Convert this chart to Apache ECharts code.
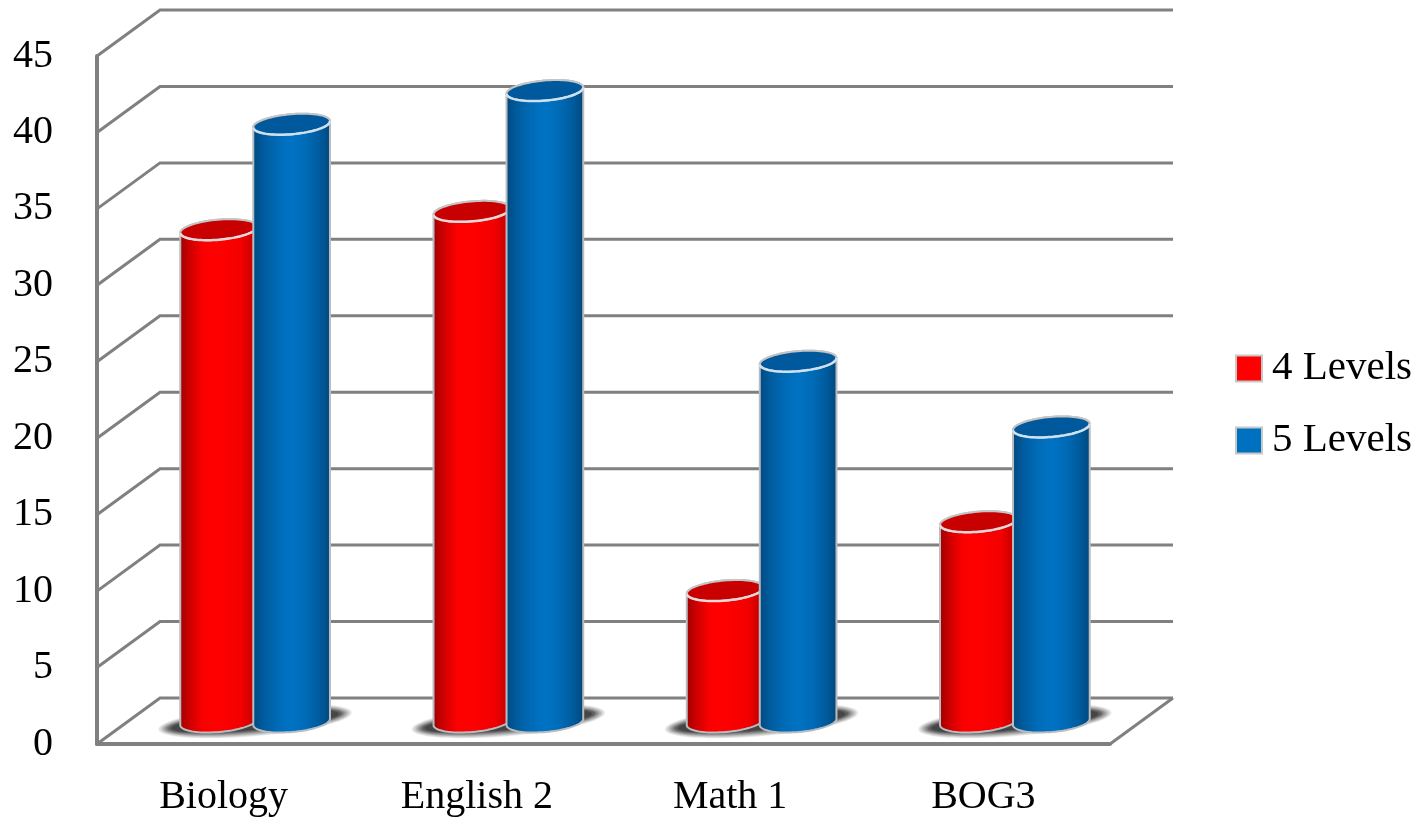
<!DOCTYPE html>
<html>
<head>
<meta charset="utf-8">
<style>html,body{margin:0;padding:0;background:#fff}#c{width:1424px;height:824px}</style>
<script src="https://cdn.jsdelivr.net/npm/echarts@6/dist/echarts.min.js"></script>
</head>
<body>
<div id="c"></div>
<script>
const categories = ['Biology', 'English 2', 'Math 1', 'BOG3'];
const yTicks = [0, 5, 10, 15, 20, 25, 30, 35, 40, 45];
const levels4 = [32.2, 33.4, 8.6, 13.1];
const levels5 = [39.1, 41.3, 23.6, 19.3];

const FONT = '"Liberation Serif", serif';
const DEPTH_X = 63, DEPTH_Y = 46;
const MID_X = 31.5, MID_Y = 22;
const RX = 38.5, RY = 10, TILT = -5 * Math.PI / 180;
const BAR_SHIFT = 36.5;
const LINE = '#808080';

function ellipsePoints(cx, cy, from, to, n) {
  const pts = [];
  for (let i = 0; i <= n; i++) {
    const t = from + (to - from) * i / n;
    pts.push([
      cx + RX * Math.cos(t) * Math.cos(TILT) - RY * Math.sin(t) * Math.sin(TILT),
      cy + RX * Math.cos(t) * Math.sin(TILT) + RY * Math.sin(t) * Math.cos(TILT)
    ]);
  }
  return pts;
}

function cylinder(shift, bodyStops, topFill, rim) {
  return function (params, api) {
    const base = api.coord([api.value(0), 0]);
    const top = api.coord([api.value(0), api.value(1)]);
    const cx = base[0] + MID_X + shift;
    const by = base[1] - MID_Y, ty = top[1] - MID_Y;
    const bottomArc = ellipsePoints(cx, by, Math.PI, 0, 40);
    const topArc = ellipsePoints(cx, ty, 0, -Math.PI, 40);
    const front = ellipsePoints(cx, ty, Math.PI, 0, 40);
    const whole = ellipsePoints(cx, ty, 0, 2 * Math.PI, 80);
    const grad = new echarts.graphic.LinearGradient(cx - RX, 0, cx + RX, 0,
      bodyStops.map(s => ({ offset: s[0], color: s[1] })), true);
    return {
      type: 'group',
      children: [
        { type: 'polygon', shape: { points: bottomArc.concat(topArc) },
          style: { fill: grad, stroke: '#b9bcc0', lineWidth: 2 } },
        { type: 'polygon', shape: { points: whole },
          style: { fill: topFill, stroke: '#c4c4c4', lineWidth: 2 } },
        { type: 'polyline', shape: { points: front },
          style: { fill: null, stroke: rim, lineWidth: 2.5 } }
      ]
    };
  };
}

const redStops = [[0, '#a00000'], [0.12, '#cc0000'], [0.3, '#fb0000'], [0.5, '#ff0000'], [0.8, '#f20000'], [1, '#b80000']];
const blueStops = [[0, '#004a80'], [0.14, '#005c9f'], [0.32, '#006bb7'], [0.5, '#0073c4'], [0.7, '#006ab5'], [0.88, '#00599a'], [1, '#00487c']];

const shadowLayers = [[97, 15, 0.12], [95, 14, 0.14], [93, 13, 0.18], [91, 12, 0.22], [89, 11, 0.3], [87, 10, 0.45], [84, 9, 0.7]];

const option = {
  backgroundColor: '#fff',
  animation: false,
  textStyle: { fontFamily: FONT },
  grid: { left: 97, top: 56, width: 1013, height: 688, containLabel: false },
  xAxis: {
    type: 'category', data: categories,
    axisLine: { show: true, lineStyle: { color: LINE, width: 4 } },
    axisTick: { show: false },
    axisLabel: { color: '#000', fontSize: 40, fontFamily: FONT, margin: 33 },
    splitLine: { show: false }
  },
  yAxis: {
    type: 'value', min: 0, max: 45, interval: 5,
    axisLine: { show: true, lineStyle: { color: LINE, width: 4 } },
    axisTick: { show: false },
    axisLabel: { color: '#000', fontSize: 40, fontFamily: FONT, margin: 44 },
    splitLine: { show: false }
  },
  legend: {
    data: ['4 Levels', '5 Levels'], orient: 'vertical', left: 1230, top: 343,
    itemWidth: 26, itemHeight: 26, itemGap: 31,
    icon: 'rect',
    itemStyle: { borderColor: '#c8c8c8', borderWidth: 2 },
    textStyle: { color: '#000', fontSize: 41, fontFamily: FONT, padding: [0, 0, 0, 5] }
  },
  series: [
    {
      type: 'custom', name: 'walls', silent: true, z: 1,
      data: yTicks.map(v => [0, v]),
      renderItem(params, api) {
        const v = api.value(1);
        const p = api.coord([0, v]);
        const cs = params.coordSys;
        const left = cs.x, right = cs.x + cs.width;
        const children = [{
          type: 'polyline',
          shape: { points: [[left, p[1]], [left + DEPTH_X, p[1] - DEPTH_Y], [right + DEPTH_X, p[1] - DEPTH_Y]] },
          style: { fill: null, stroke: LINE, lineWidth: 3 }
        }];
        if (v === 0) {
          children.push({
            type: 'polyline',
            shape: { points: [[right, p[1]], [right + DEPTH_X, p[1] - DEPTH_Y]] },
            style: { fill: null, stroke: LINE, lineWidth: 3 }
          });
        }
        return { type: 'group', children };
      }
    },
    {
      type: 'custom', name: 'shadow', silent: true, z: 2,
      data: categories.map((c, i) => [i, 0]),
      renderItem(params, api) {
        const b = api.coord([api.value(0), 0]);
        const cx = b[0] + MID_X, cy = b[1] - MID_Y - 1;
        return {
          type: 'group',
          children: shadowLayers.map(l => ({
            type: 'ellipse',
            x: cx, y: cy,
            rotation: 5 * Math.PI / 180,
            shape: { cx: 0, cy: 0, rx: l[0], ry: l[1] },
            style: { fill: 'rgba(60,60,60,' + l[2] + ')' }
          }))
        };
      }
    },
    {
      type: 'custom', name: '4 Levels', z: 3,
      itemStyle: { color: '#ff0000' },
      data: levels4.map((v, i) => [i, v]),
      renderItem: cylinder(-BAR_SHIFT, redStops, '#c80000', '#e8d8d8')
    },
    {
      type: 'custom', name: '5 Levels', z: 4,
      itemStyle: { color: '#0070c0' },
      data: levels5.map((v, i) => [i, v]),
      renderItem: cylinder(BAR_SHIFT, blueStops, '#00599c', '#cfe0ee')
    }
  ]
};
const chart = echarts.init(document.getElementById('c'), null, { renderer: 'canvas' });
chart.setOption(option);
</script>
</body>
</html>
